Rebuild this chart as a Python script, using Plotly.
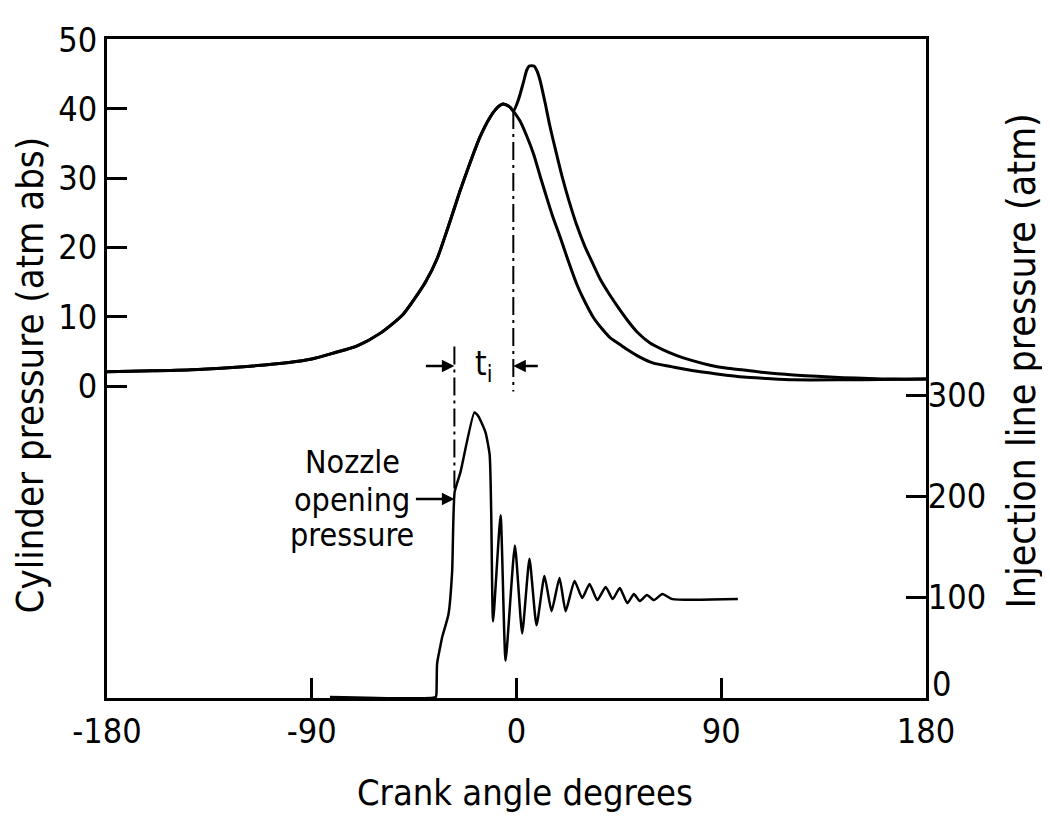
import plotly.graph_objects as go

# ---------------- data ----------------
# Cylinder pressure, atm abs — shared compression branch
comp_angle = [-180, -160, -140, -120, -100, -90, -80, -70, -60, -50, -45, -40, -35,
              -30, -25, -20, -16, -12, -9, -6, -3, -1.4]
comp_p = [2.05, 2.2, 2.4, 2.8, 3.4, 3.9, 4.8, 5.8, 7.6, 10.3, 12.5, 15.0, 18.3,
          23.0, 28.0, 32.6, 36.0, 38.6, 40.0, 40.7, 40.3, 39.7]
# Motored expansion branch
motored_angle = [1.5, 4.5, 7.5, 10.3, 13, 16, 19.1, 22.5, 26.5, 30, 33.8, 37.5, 41.1,
                 45, 48.5, 54, 60.2, 68, 77.8, 88, 99.8, 110, 121.7, 143.7, 160, 180]
motored_p = [38.3, 36.1, 33.5, 30.4, 27.5, 24.4, 21.6, 18.3, 14.7, 12.2, 9.9, 8.3, 7.0,
             6.1, 5.3, 4.2, 3.3, 2.8, 2.2, 1.75, 1.3, 1.1, 0.9, 0.9, 0.95, 1.0]
# Firing expansion branch
fired_angle = [0.8, 3, 4.5, 5.6, 7.7, 9, 10.3, 12.5, 14.7, 17, 20, 23, 26.5, 30, 33.8,
               37, 41.1, 45, 48.5, 53, 58.7, 64, 70.5, 77, 85.1, 92, 99.8, 110, 121.7,
               132, 143.7, 155, 165.7, 180]
fired_p = [41.3, 43.8, 45.6, 46.2, 46.2, 45.5, 44.2, 41.0, 37.5, 34.3, 30.3, 26.8, 23.2,
           20.2, 17.5, 15.3, 13.1, 11.2, 9.6, 7.8, 6.2, 5.3, 4.4, 3.7, 3.0, 2.6, 2.3,
           1.9, 1.6, 1.4, 1.2, 1.1, 1.0, 1.0]

# Injection line pressure, atm
inj_angle = [-82, -35.5, -35.2, -34.9, -33.6, -32.7, -29.9, -28.3, -27.2, -24.6, -18.5,
             -16.7, -13.6, -11.8, -11.1, -10.3, -7.0, -4.8, -0.7, 2.5, 5.7, 8.8, 12.3,
             15.4, 18.9, 21.6, 25.5, 28.9, 32.1, 35.5, 39.2, 42.3, 45.4, 48.7, 51.6,
             54.2, 57.3, 60.4, 64.1, 68.5, 97.3]
inj_p = [1, 1, 4, 34, 50, 60, 83, 125, 204, 224, 283, 279, 263, 241, 181, 76, 181, 37,
         151, 64, 138, 72, 121, 86, 119, 86, 116, 99, 113, 97, 110, 98, 109, 94, 103,
         96, 102, 97, 103, 98, 98]

x_ticks = [-180, -90, 0, 90, 180]
x_ticktext = ["-180", "-90", "0", "90", "180"]
cyl_ticks = [0, 10, 20, 30, 40, 50]
inj_ticks = [0, 100, 200, 300]
inj_ticktext = ["", "100", "200", "300"]   # the "0" is set a little higher, as drawn

nozzle_open_angle = -27.3     # start of injection
combustion_start_angle = -1.4  # start of combustion

# ---------------- layout geometry (page pixels) ----------------
OFF = 8                       # default body margin of the page
PL, PR, PT, PB = 107, 926, 32, 698
FIG_W, FIG_H = 1050 - OFF, 824 - OFF


def px_x(px):
    return (px - PL) / (PR - PL)


def px_y(py):
    return (PB - py) / (PB - PT)


FONT = "DejaVu Sans Condensed, Liberation Sans Narrow, Arial Narrow, sans-serif"
BLACK = "#000000"

fig = go.Figure()
fig.add_trace(go.Scatter(x=comp_angle + motored_angle, y=comp_p + motored_p,
                         mode="lines", line=dict(color=BLACK, width=3, shape="spline",
                                                 smoothing=0.7),
                         showlegend=False, hoverinfo="skip"))
fig.add_trace(go.Scatter(x=comp_angle + fired_angle, y=comp_p + fired_p,
                         mode="lines", line=dict(color=BLACK, width=3, shape="spline",
                                                 smoothing=0.7),
                         showlegend=False, hoverinfo="skip"))
fig.add_trace(go.Scatter(x=inj_angle, y=inj_p, yaxis="y2",
                         mode="lines", line=dict(color=BLACK, width=2.5, shape="spline",
                                                 smoothing=0.5),
                         showlegend=False, hoverinfo="skip"))

# dash-dot timing lines
dd = "18px,5px,3px,5px"
fig.add_shape(type="line", xref="x", yref="y", x0=nozzle_open_angle, x1=nozzle_open_angle,
              y0=5.7, y1=-15.3, line=dict(color=BLACK, width=2, dash=dd))
fig.add_shape(type="line", xref="x", yref="y", x0=combustion_start_angle,
              x1=combustion_start_angle, y0=39.7, y1=-0.8,
              line=dict(color=BLACK, width=2, dash=dd))

annotations = []
# t_i arrows
annotations.append(dict(x=nozzle_open_angle, y=2.9, xref="x", yref="y", text="",
                        showarrow=True, ax=-30, ay=0, arrowhead=2, arrowsize=1,
                        arrowwidth=2.5, arrowcolor=BLACK))
annotations.append(dict(x=combustion_start_angle, y=2.9, xref="x", yref="y", text="",
                        showarrow=True, ax=26, ay=0, arrowhead=2, arrowsize=1,
                        arrowwidth=2.5, arrowcolor=BLACK))
annotations.append(dict(x=(nozzle_open_angle + combustion_start_angle) / 2, y=2.9,
                        xref="x", yref="y", text="t<sub>i</sub>", showarrow=False,
                        xanchor="center", yanchor="middle",
                        font=dict(family=FONT, size=33, color=BLACK)))
# Nozzle opening pressure label
for txt, yy in [("Nozzle", -11.0), ("opening", -16.5), ("pressure", -21.5)]:
    annotations.append(dict(x=-72.3, y=yy, xref="x", yref="y", text=txt,
                            xanchor="center", yanchor="middle", showarrow=False,
                            font=dict(family=FONT, size=32, color=BLACK)))
annotations.append(dict(x=nozzle_open_angle, y=-16.3, xref="x", yref="y", text="",
                        showarrow=True, ax=-40, ay=0, arrowhead=2, arrowsize=1,
                        arrowwidth=2.5, arrowcolor=BLACK))
# right-axis zero label, drawn just above the "180" label
annotations.append(dict(x=px_x(930), y=px_y(684), xref="paper", yref="paper",
                        text=str(inj_ticks[0]), showarrow=False,
                        xanchor="left", yanchor="middle",
                        font=dict(family=FONT, size=34, color=BLACK)))
# axis titles
annotations.append(dict(x=px_x(525), y=px_y(793), xref="paper", yref="paper",
                        text="Crank angle degrees", showarrow=False,
                        xanchor="center", yanchor="middle",
                        font=dict(family=FONT, size=36, color=BLACK)))
annotations.append(dict(x=px_x(30), y=px_y(372), xref="paper", yref="paper",
                        text="Cylinder pressure (atm abs)", textangle=-90,
                        xanchor="center", yanchor="middle", showarrow=False,
                        font=dict(family=FONT, size=38, color=BLACK)))
annotations.append(dict(x=px_x(1022), y=px_y(358), xref="paper", yref="paper",
                        text="Injection line pressure (atm)", textangle=-90,
                        xanchor="center", yanchor="middle", showarrow=False,
                        font=dict(family=FONT, size=39, color=BLACK)))

axis_common = dict(showgrid=False, zeroline=False, showline=True, linecolor=BLACK,
                   linewidth=3, ticks="inside", ticklen=20, tickwidth=3, tickcolor=BLACK,
                   tickfont=dict(family=FONT, size=34, color=BLACK))

fig.update_layout(
    width=FIG_W, height=FIG_H,
    margin=dict(l=PL - OFF, r=FIG_W - (PR - OFF), t=PT - OFF, b=FIG_H - (PB - OFF)),
    paper_bgcolor="white", plot_bgcolor="white",
    font=dict(family=FONT, color=BLACK),
    xaxis=dict(range=[-180, 180], tickvals=x_ticks, ticktext=x_ticktext, mirror=True,
               ticklabelstandoff=1, **axis_common),
    yaxis=dict(range=[-45.04, 50.1], tickvals=cyl_ticks, ticklabelstandoff=0,
               **axis_common),
    yaxis2=dict(range=[0, 653], tickvals=inj_ticks, ticktext=inj_ticktext,
                overlaying="y", side="right", ticklabelstandoff=-8, **axis_common),
    annotations=annotations,
)

fig.write_html("out.html")
